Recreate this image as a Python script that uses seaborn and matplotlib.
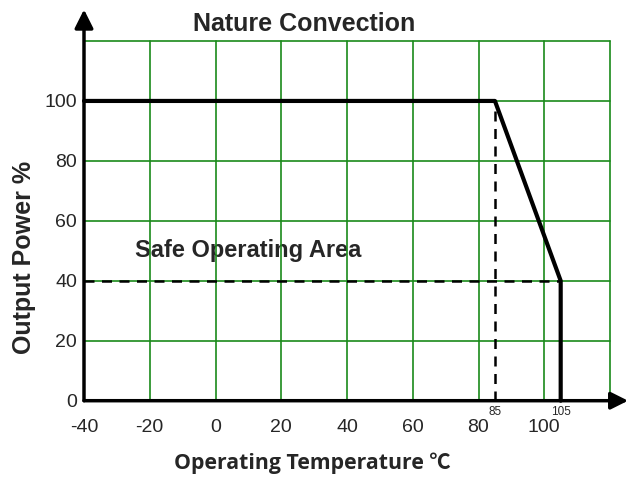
import matplotlib
matplotlib.use("Agg")
import matplotlib.pyplot as plt
import seaborn as sns
import pandas as pd

# ── Data ──────────────────────────────────────────────────────────────────────
temp_c = [-40, 85, 105, 105]
power_pct = [100, 100, 40, 0]
x_ticks = [-40, -20, 0, 20, 40, 60, 80, 100]
y_ticks = [0, 20, 40, 60, 80, 100]
grid_x = [-40, -20, 0, 20, 40, 60, 80, 100, 120]
grid_y = [0, 20, 40, 60, 80, 100, 120]
knee_temp = 85
cutoff_temp = 105
cutoff_power = 40

sns.set_style("white")
plt.rcParams["font.family"] = ["Liberation Sans", "DejaVu Sans"]

GREEN = "#1a8a1a"

fig = plt.figure(figsize=(6.26, 4.79), dpi=100)
ax = fig.add_axes([84 / 626, 78.3 / 479, 526 / 626, 359.7 / 479])
ax.set_xlim(-40, 120)
ax.set_ylim(0, 120)

# green grid
for gx in grid_x:
    ax.axvline(gx, color=GREEN, lw=1.2, zorder=2, clip_on=False)
for gy in grid_y:
    ax.axhline(gy, color=GREEN, lw=1.2, zorder=2, clip_on=False)

# derating curve
df = pd.DataFrame({"temp": temp_c, "power": power_pct})
sns.lineplot(data=df, x="temp", y="power", ax=ax, color="black", lw=3,
             sort=False, estimator=None, zorder=5, clip_on=False)

# dashed guides
ax.plot([knee_temp, knee_temp], [0, 100], color="black", lw=1.8,
        ls=(0, (4, 3)), zorder=4)
ax.plot([-40, cutoff_temp], [cutoff_power, cutoff_power], color="black",
        lw=1.8, ls=(0, (4, 3)), zorder=4)

# axes with arrows
for s in ax.spines.values():
    s.set_visible(False)
ax.annotate("", xy=(-40, 130.5), xytext=(-40, 0), annotation_clip=False,
            arrowprops=dict(arrowstyle="-|>", color="black", lw=2.5,
                            mutation_scale=28, shrinkA=0, shrinkB=0),
            zorder=6)
ax.annotate("", xy=(125.5, 0), xytext=(-40, 0), annotation_clip=False,
            arrowprops=dict(arrowstyle="-|>", color="black", lw=2.5,
                            mutation_scale=26, shrinkA=0, shrinkB=0),
            zorder=6)

ax.set_xticks(x_ticks)
ax.set_xticklabels([str(v) for v in x_ticks], fontsize=14)
ax.set_yticks(y_ticks)
ax.set_yticklabels([str(v) for v in y_ticks], fontsize=14)
ax.tick_params(axis="x", length=0, pad=13)
ax.tick_params(axis="y", length=0, pad=5)
ax.set_xlabel("")
ax.set_ylabel("")

# small marker labels
ax.text(knee_temp, -1.8, "85", fontsize=8.5, ha="center", va="top")
ax.text(cutoff_temp, -1.8, "105", fontsize=8.5, ha="center", va="top")

# titles and labels
fig.text(304 / 626, 1 - 24 / 479, "Nature Convection", fontsize=18,
         fontweight="bold", ha="center", va="center")
ax.text(10, 50, "Safe Operating Area", fontsize=17, fontweight="bold",
        ha="center", va="center", zorder=1)
fig.text(24 / 626, 1 - 257 / 479, "Output Power %", fontsize=18,
         fontweight="bold", rotation=90, ha="center", va="center")
fig.text(312 / 626, 1 - 463 / 479, "Operating Temperature ℃", fontsize=15.3,
         fontweight="bold", ha="center", va="center",
         family=["Open Sans", "Noto Sans CJK SC", "DejaVu Sans"])

fig.savefig("out.png", dpi=100, facecolor="white")
